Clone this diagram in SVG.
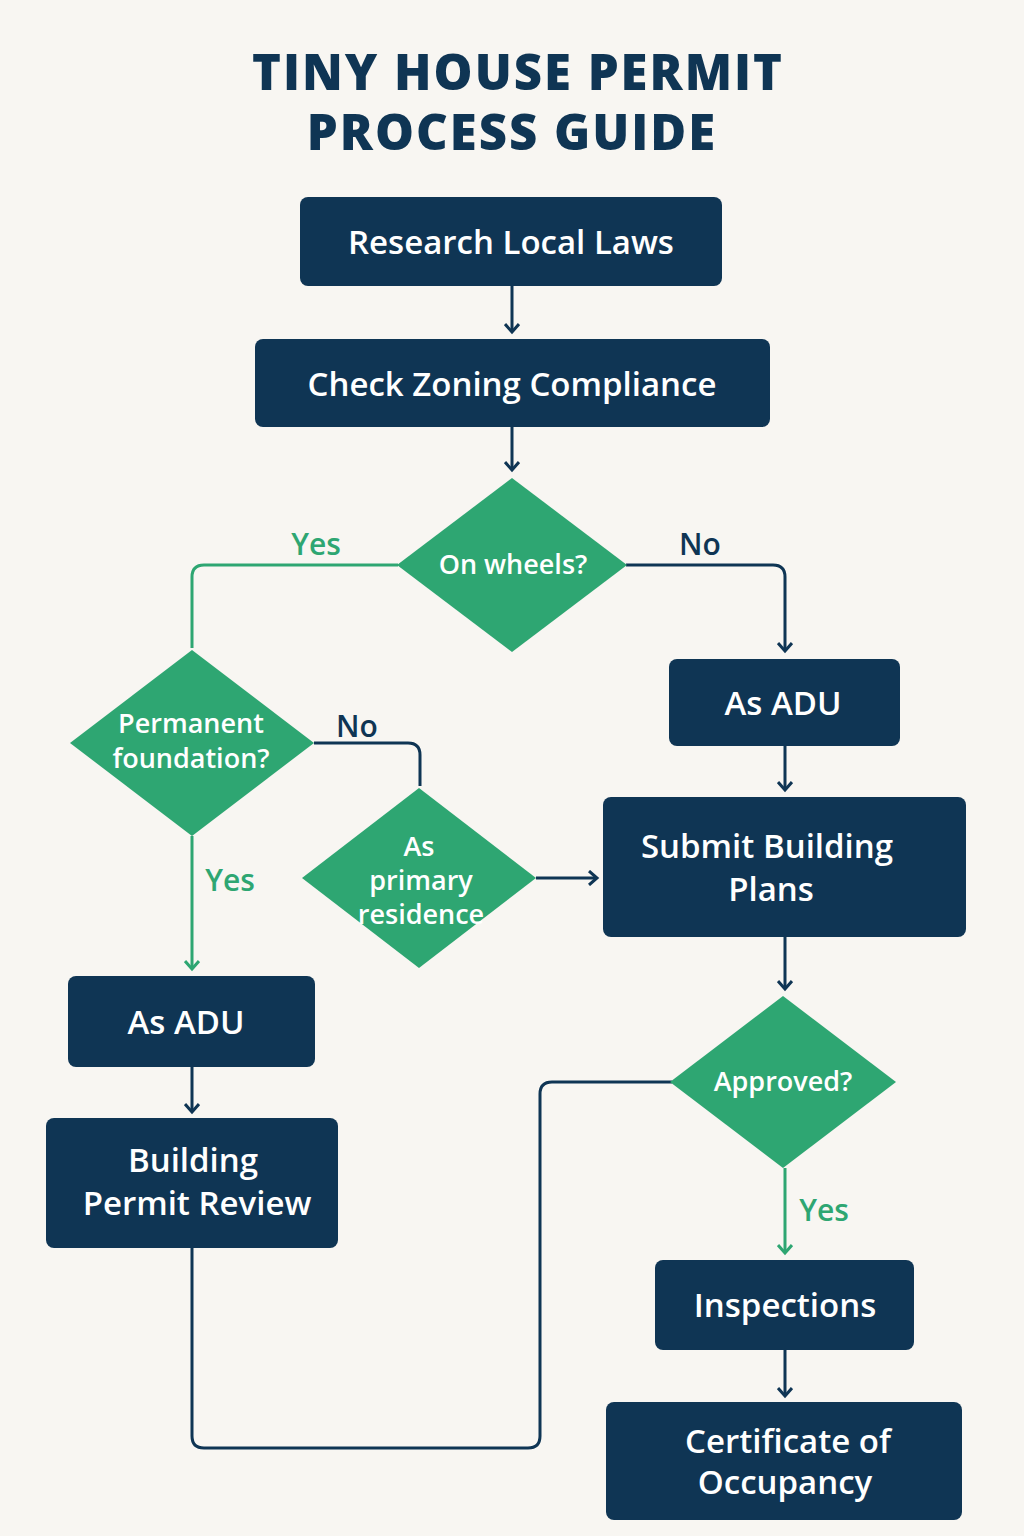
<svg xmlns="http://www.w3.org/2000/svg" width="1024" height="1536" viewBox="0 0 1024 1536">
<defs>
<marker id="an" markerWidth="16" markerHeight="16" refX="12" refY="8" orient="auto" markerUnits="userSpaceOnUse" viewBox="0 0 16 16">
<path d="M4,1 L12,8 L4,15" fill="none" stroke="#0f3554" stroke-width="3"/>
</marker>
<marker id="ag" markerWidth="16" markerHeight="16" refX="12" refY="8" orient="auto" markerUnits="userSpaceOnUse" viewBox="0 0 16 16">
<path d="M4,1 L12,8 L4,15" fill="none" stroke="#2ea672" stroke-width="3"/>
</marker>
</defs>
<style>
.r{fill:#0f3554}
.d{fill:#2ea672}
text{font-family:"Open Sans","Liberation Sans",sans-serif;font-weight:600;text-anchor:middle}
.t{fill:#fff;font-size:33px}
.dt{fill:#fff;font-size:27px}
.n{fill:none;stroke:#0f3554;stroke-width:3}
.g{fill:none;stroke:#2ea672;stroke-width:3}
.ln{fill:#0f3554;font-size:30px}
.lg{fill:#2ea672;font-size:30px}
</style>
<rect width="1024" height="1536" fill="#f8f6f2"/>
<g id="title">
<text x="518" y="90" style="font-size:49px;font-weight:800;letter-spacing:2px" fill="#0f3554">TINY HOUSE PERMIT</text>
<text x="512" y="150" style="font-size:49px;font-weight:800;letter-spacing:2px" fill="#0f3554">PROCESS GUIDE</text>
</g>
<g id="connectors">
<path class="n" d="M512,286 V332" marker-end="url(#an)"/>
<path class="n" d="M512,427 V470" marker-end="url(#an)"/>
<path class="g" d="M398,565 H204 Q192,565 192,577 V648"/>
<path class="n" d="M626,565 H773 Q785,565 785,577 V651" marker-end="url(#an)"/>
<path class="n" d="M314,743 H408 Q420,743 420,755 V786"/>
<path class="g" d="M192,836 V969" marker-end="url(#ag)"/>
<path class="n" d="M536,878 H597" marker-end="url(#an)"/>
<path class="n" d="M785,746 V790" marker-end="url(#an)"/>
<path class="n" d="M785,937 V989" marker-end="url(#an)"/>
<path class="g" d="M785,1168 V1253" marker-end="url(#ag)"/>
<path class="n" d="M785,1350 V1396" marker-end="url(#an)"/>
<path class="n" d="M192,1067 V1112" marker-end="url(#an)"/>
<path class="n" d="M192,1248 V1436 Q192,1448 204,1448 H528 Q540,1448 540,1436 V1094 Q540,1082 552,1082 H672"/>
<text class="lg" x="316" y="555">Yes</text>
<text class="ln" x="700" y="555">No</text>
<text class="ln" x="357" y="737">No</text>
<text class="lg" x="230" y="891">Yes</text>
<text class="lg" x="824" y="1221">Yes</text>
</g>
<g id="n1"><rect class="r" x="300" y="197" width="422" height="89" rx="8"/><text class="t" x="511" y="254">Research Local Laws</text></g>
<g id="n2"><rect class="r" x="255" y="339" width="515" height="88" rx="8"/><text class="t" x="512" y="396">Check Zoning Compliance</text></g>
<g id="n3"><polygon class="d" points="512,478 627,565 512,652 397,565"/><text class="dt" x="513" y="574">On wheels?</text></g>
<g id="n4"><rect class="r" x="669" y="659" width="231" height="87" rx="8"/><text class="t" x="783" y="715">As ADU</text></g>
<g id="n5"><polygon class="d" points="192,650 314,743 192,836 70,743"/><text class="dt" x="191" y="733">Permanent</text><text class="dt" x="191" y="768">foundation?</text></g>
<g id="n6"><polygon class="d" points="419,788 536,878 419,968 302,878"/><text class="dt" x="419" y="856">As</text><text class="dt" x="421" y="890">primary</text><text class="dt" x="421" y="924">residence</text></g>
<g id="n7"><rect class="r" x="603" y="797" width="363" height="140" rx="8"/><text class="t" x="767" y="858">Submit Building</text><text class="t" x="771" y="901">Plans</text></g>
<g id="n8"><polygon class="d" points="783,996 896,1082 783,1168 670,1082"/><text class="dt" x="783" y="1091">Approved?</text></g>
<g id="n9"><rect class="r" x="68" y="976" width="247" height="91" rx="8"/><text class="t" x="186" y="1034">As ADU</text></g>
<g id="n10"><rect class="r" x="46" y="1118" width="292" height="130" rx="8"/><text class="t" x="193" y="1172">Building</text><text class="t" x="197" y="1215">Permit Review</text></g>
<g id="n11"><rect class="r" x="655" y="1260" width="259" height="90" rx="8"/><text class="t" x="785" y="1317">Inspections</text></g>
<g id="n12"><rect class="r" x="606" y="1402" width="356" height="118" rx="8"/><text class="t" x="788" y="1453">Certificate of</text><text class="t" x="785" y="1494">Occupancy</text></g>
</svg>
